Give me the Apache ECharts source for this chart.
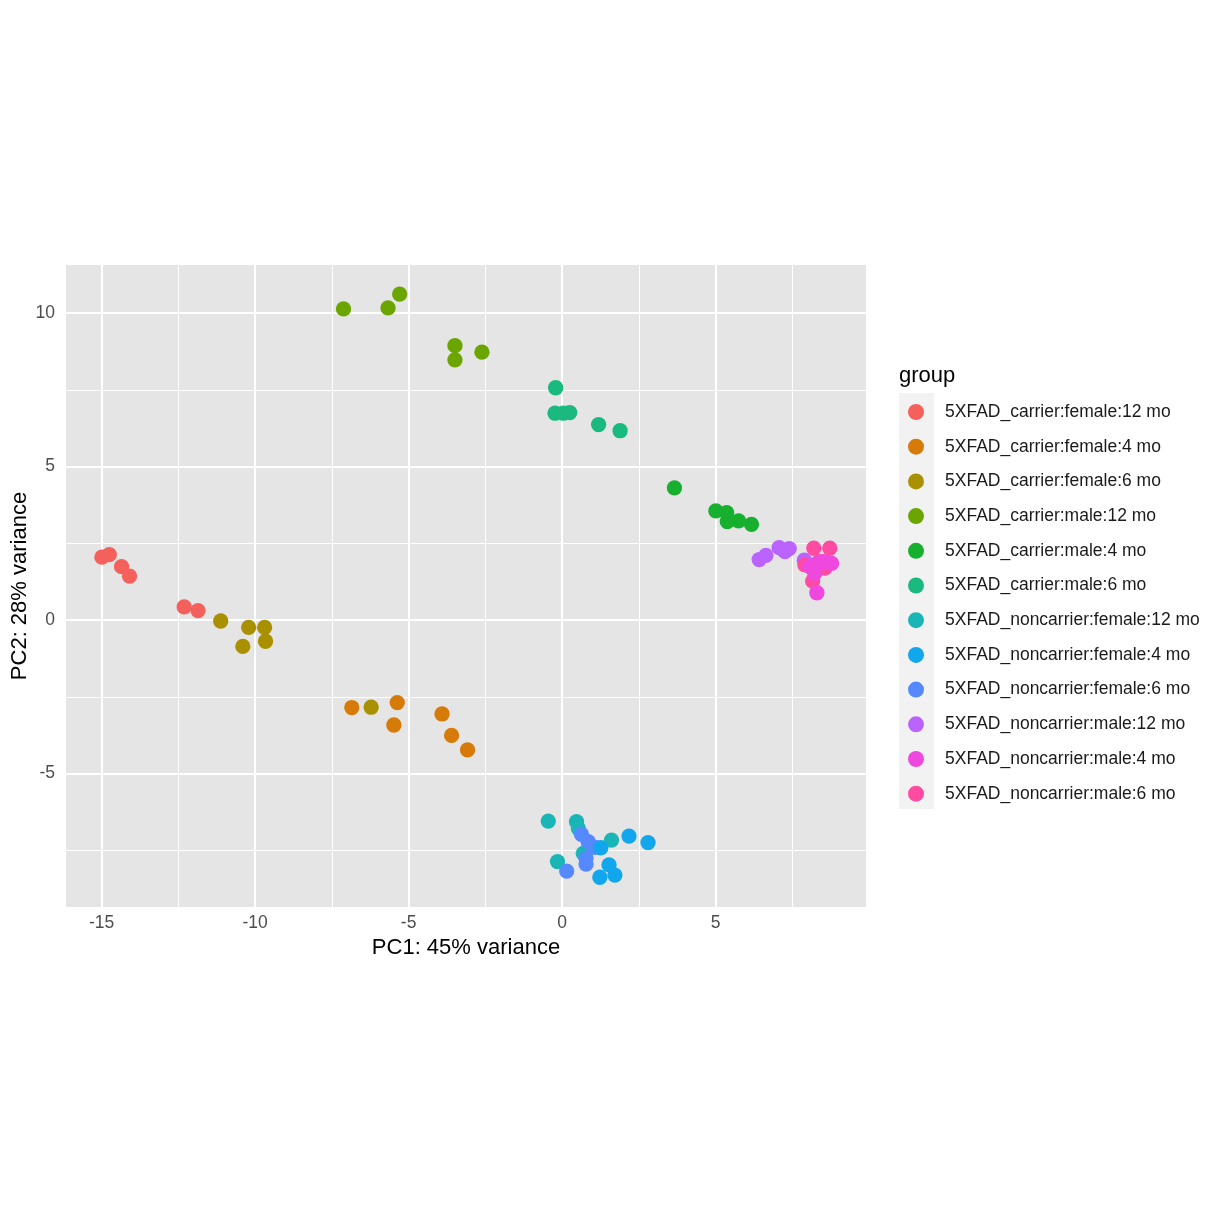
<!DOCTYPE html>
<html><head><meta charset="utf-8">
<script src="https://cdn.jsdelivr.net/npm/echarts@6/dist/echarts.min.js"></script>
<style>html,body{margin:0;padding:0;background:#fff}#c{width:1224px;height:1224px}</style>
</head><body><div id="c"></div>
<script>
const groupNames = [
  '5XFAD_carrier:female:12 mo','5XFAD_carrier:female:4 mo','5XFAD_carrier:female:6 mo',
  '5XFAD_carrier:male:12 mo','5XFAD_carrier:male:4 mo','5XFAD_carrier:male:6 mo',
  '5XFAD_noncarrier:female:12 mo','5XFAD_noncarrier:female:4 mo','5XFAD_noncarrier:female:6 mo',
  '5XFAD_noncarrier:male:12 mo','5XFAD_noncarrier:male:4 mo','5XFAD_noncarrier:male:6 mo'
];
const groupColors = ['#F4615C','#D67A0A','#A89000','#6BA500','#17B02E','#1AB97F','#1AB5B5','#12A6EC','#5689FF','#BA63FF','#EE48DE','#FF4BA2'];

const carrierFemale12 = [[-14.99,2.05],[-14.75,2.13],[-14.35,1.74],[-14.09,1.43],[-12.31,0.43],[-11.86,0.31]];
const carrierFemale4  = [[-6.85,-2.85],[-5.37,-2.69],[-5.48,-3.42],[-3.91,-3.06],[-3.60,-3.76],[-3.08,-4.23]];
const carrierFemale6  = [[-11.12,-0.03],[-10.21,-0.24],[-9.69,-0.24],[-10.40,-0.86],[-9.66,-0.69],[-6.22,-2.84]];
const carrierMale12   = [[-7.12,10.14],[-5.67,10.17],[-5.29,10.62],[-3.49,8.94],[-3.49,8.48],[-2.61,8.73]];
const carrierMale4    = [[3.66,4.31],[5.01,3.56],[5.36,3.50],[5.38,3.21],[5.75,3.23],[6.17,3.12]];
const carrierMale6    = [[-0.21,7.57],[-0.23,6.74],[0.04,6.74],[0.25,6.76],[1.19,6.37],[1.89,6.17]];
const noncarrierFemale12 = [[-0.45,-6.55],[0.47,-6.57],[0.53,-6.79],[1.61,-7.17],[0.69,-7.60],[-0.15,-7.87]];
const noncarrierFemale4  = [[2.18,-7.04],[2.80,-7.25],[1.26,-7.42],[1.53,-7.98],[1.72,-8.31],[1.23,-8.38]];
const noncarrierFemale6  = [[0.63,-6.98],[0.85,-7.22],[1.07,-7.41],[0.78,-7.76],[0.78,-7.95],[0.15,-8.18]];
const noncarrierMale12   = [[6.42,1.97],[6.64,2.11],[7.07,2.36],[7.26,2.23],[7.40,2.33],[7.89,1.95]];
const noncarrierMale4    = [[8.30,0.89],[8.07,1.74],[8.30,1.85],[8.53,1.90],[8.78,1.85],[8.23,1.52]];
const noncarrierMale6    = [[8.20,2.34],[8.72,2.34],[7.91,1.80],[8.56,1.69],[8.16,1.27],[8.40,1.90]];

const groupData = [carrierFemale12,carrierFemale4,carrierFemale6,carrierMale12,carrierMale4,carrierMale6,
  noncarrierFemale12,noncarrierFemale4,noncarrierFemale6,noncarrierMale12,noncarrierMale4,noncarrierMale6];
const groupZ = [2,2,2,2,2,2,2,4,3,2,5,4];

const xMajor = [-15,-10,-5,0,5];
const xMinor = [-12.5,-7.5,-2.5,2.5,7.5];
const yMajor = [-5,0,5,10];
const yMinor = [-7.5,-2.5,2.5,7.5];
const xRange = [-16.16, 9.9];
const yRange = [-9.35, 11.57];

const FONT = '"Liberation Sans", Arial, Helvetica, sans-serif';
const chart = echarts.init(document.getElementById('c'), null, {renderer:'canvas'});

const gridSeries = {
  type:'scatter', data:[], silent:true, z:1,
  markLine:{
    silent:true, symbol:'none', animation:false, label:{show:false}, z:1,
    data: [
      ...xMinor.map(v=>({xAxis:v, lineStyle:{color:'#fff', width:1, type:'solid'}})),
      ...yMinor.map(v=>({yAxis:v, lineStyle:{color:'#fff', width:1, type:'solid'}})),
      ...xMajor.map(v=>({xAxis:v, lineStyle:{color:'#fff', width:2, type:'solid'}})),
      ...yMajor.map(v=>({yAxis:v, lineStyle:{color:'#fff', width:2, type:'solid'}}))
    ]
  }
};

const option = {
  animation:false,
  backgroundColor:'#ffffff',
  textStyle:{fontFamily:FONT},
  title:{text:'group', left:899, top:365, padding:[0,0,0,0], textStyle:{fontFamily:FONT, fontSize:22, fontWeight:'normal', color:'#000'}},
  graphic:[{type:'rect', shape:{x:899, y:393, width:35, height:416}, style:{fill:'#F2F2F2'}, z:-1}],
  legend:{
    orient:'vertical', left:908, top:403, padding:0, itemWidth:16, itemHeight:16, itemGap:16.7,
    icon:'circle', data:groupNames,
    textStyle:{fontFamily:FONT, fontSize:17.5, color:'#1a1a1a', padding:[0,0,0,16]}
  },
  grid:{left:66, top:265, width:800, height:642, show:true, backgroundColor:'#E5E5E5', borderWidth:0,
        containLabel:false, outerBoundsMode:'none'},
  xAxis:{
    type:'value', min:xRange[0], max:xRange[1],
    name:'PC1: 45% variance', nameLocation:'middle', nameGap:30, nameMoveOverlap:false,
    nameTextStyle:{fontFamily:FONT, fontSize:22, color:'#000'},
    splitLine:{show:false}, axisLine:{show:false},
    axisTick:{show:true, customValues:xMajor, length:5, lineStyle:{color:'#333', width:2}},
    axisLabel:{customValues:xMajor, color:'#4D4D4D', fontSize:17.5, margin:7, fontFamily:FONT}
  },
  yAxis:{
    type:'value', min:yRange[0], max:yRange[1],
    name:'PC2: 28% variance', nameLocation:'middle', nameGap:35, nameRotate:90, nameMoveOverlap:false,
    nameTextStyle:{fontFamily:FONT, fontSize:22, color:'#000'},
    splitLine:{show:false}, axisLine:{show:false},
    axisTick:{show:true, customValues:yMajor, length:5, lineStyle:{color:'#333', width:2}},
    axisLabel:{customValues:yMajor, color:'#4D4D4D', fontSize:17.5, margin:11, fontFamily:FONT}
  },
  series:[gridSeries, ...groupNames.map((n,i)=>({
    name:n, type:'scatter', data:groupData[i], symbol:'circle', symbolSize:15.3, z:groupZ[i],
    itemStyle:{color:groupColors[i], opacity:1}
  }))]
};
chart.setOption(option);
</script></body></html>
